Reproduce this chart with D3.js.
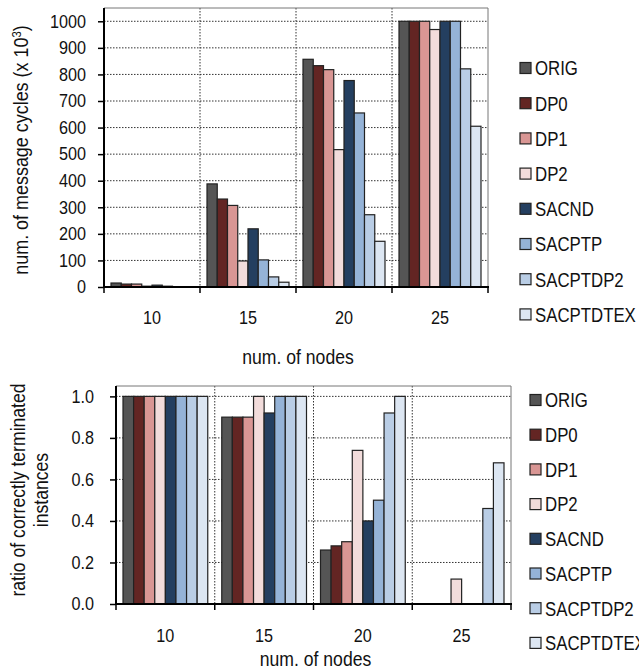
<!DOCTYPE html>
<html><head><meta charset="utf-8">
<script src="https://cdn.jsdelivr.net/npm/d3@7"></script>
<style>
body{margin:0;background:#fff;}
svg text{font-family:"Liberation Sans",Arial,Helvetica,sans-serif;fill:#111;}
</style></head><body>
<svg id="c" width="639" height="671"></svg>
<script>
const categories = ["10", "15", "20", "25"];
const seriesNames = ["ORIG", "DP0", "DP1", "DP2", "SACND", "SACPTP", "SACPTDP2", "SACPTDTEX"];

// top chart: num. of message cycles (x 10^3)
const cyclesORIG      = [15, 388, 857, 1000];
const cyclesDP0       = [11, 331, 833, 1000];
const cyclesDP1       = [11, 307, 818, 1000];
const cyclesDP2       = [3, 98, 517, 969];
const cyclesSACND     = [7, 219, 777, 1000];
const cyclesSACPTP    = [3, 102, 655, 1000];
const cyclesSACPTDP2  = [1, 38, 272, 821];
const cyclesSACPTDTEX = [1, 18, 172, 605];
const cyclesTicks = [0, 100, 200, 300, 400, 500, 600, 700, 800, 900, 1000];

// bottom chart: ratio of correctly terminated instances
const ratioORIG      = [1.0, 0.90, 0.26, 0];
const ratioDP0       = [1.0, 0.90, 0.28, 0];
const ratioDP1       = [1.0, 0.90, 0.30, 0];
const ratioDP2       = [1.0, 1.00, 0.74, 0.12];
const ratioSACND     = [1.0, 0.92, 0.40, 0];
const ratioSACPTP    = [1.0, 1.00, 0.50, 0];
const ratioSACPTDP2  = [1.0, 1.00, 0.92, 0.46];
const ratioSACPTDTEX = [1.0, 1.00, 1.00, 0.68];
const ratioTicks = [0, 0.2, 0.4, 0.6, 0.8, 1.0];

const colors = ["#555555", "#632523", "#d99694", "#f2dcdb", "#243f60", "#95b3d7", "#b9cde5", "#dce6f2"];

const svg = d3.select("#c");

// horizontally condense text around its anchor point
function squeeze(sel, k) {
  sel.each(function () {
    const t = d3.select(this);
    const x = +t.attr("x") || 0, y = +t.attr("y") || 0;
    t.attr("x", 0).attr("y", 0).attr("transform", `translate(${x},${y}) scale(${k},1)`);
  });
}

function drawChart(o) {
  const g = svg.append("g");
  const x0 = d3.scaleBand().domain(categories).range([o.left, o.right]).padding(0);
  const bw = x0.bandwidth();
  const x1 = d3.scaleBand().domain(seriesNames).range([7, bw - 7]).padding(0);
  const y = d3.scaleLinear().domain([0, o.max]).range([o.bottom, o.top]);

  g.append("g").selectAll("line").data(o.ticks.filter(t => t > 0)).join("line")
    .attr("x1", o.left).attr("x2", o.right)
    .attr("y1", d => y(d)).attr("y2", d => y(d))
    .attr("stroke", "#333").attr("stroke-width", 1).attr("stroke-dasharray", "1.5,1.5");
  g.append("g").selectAll("line").data(categories.slice(1)).join("line")
    .attr("x1", d => x0(d)).attr("x2", d => x0(d))
    .attr("y1", o.top).attr("y2", o.bottom)
    .attr("stroke", "#333").attr("stroke-width", 1).attr("stroke-dasharray", "1.5,1.5");
  g.append("line").attr("x1", o.left).attr("x2", o.right).attr("y1", o.top).attr("y2", o.top)
    .attr("stroke", "#777").attr("stroke-width", 1);
  g.append("line").attr("x1", o.right).attr("x2", o.right).attr("y1", o.top).attr("y2", o.bottom)
    .attr("stroke", "#777").attr("stroke-width", 1);

  const groups = g.append("g").selectAll("g").data(categories).join("g")
    .attr("transform", d => `translate(${x0(d)},0)`);
  groups.selectAll("rect").data((c, ci) => seriesNames.map((s, si) => ({s, si, v: o.data[si][ci]})))
    .join("rect")
    .filter(d => d.v > 0)
    .attr("x", d => x1(d.s)).attr("width", x1.bandwidth())
    .attr("y", d => y(d.v)).attr("height", d => o.bottom - y(d.v))
    .attr("fill", d => colors[d.si])
    .attr("stroke", "#222").attr("stroke-width", 1.2);

  const yAxis = d3.axisLeft(y).tickValues(o.ticks).tickFormat(o.fmt).tickSize(6).tickPadding(o.tickPad);
  const ya = g.append("g").attr("transform", `translate(${o.left},0)`).call(yAxis);
  ya.select(".domain").remove();
  ya.selectAll(".tick line").attr("stroke", "#000").attr("stroke-width", 1.5);
  ya.selectAll(".tick text").attr("font-size", 18).attr("fill", "#111");
  ya.attr("font-family", null);
  squeeze(ya.selectAll(".tick text"), 0.9);

  const bounds = categories.map(c => x0(c)).concat([o.right]);
  g.append("g").selectAll("line").data(bounds).join("line")
    .attr("x1", d => d).attr("x2", d => d).attr("y1", o.bottom).attr("y2", o.bottom + 6)
    .attr("stroke", "#000").attr("stroke-width", 1.5);
  const xl = g.append("g").selectAll("text").data(categories).join("text")
    .attr("x", d => x0(d) + bw / 2).attr("y", o.xLabelY)
    .attr("text-anchor", "middle").attr("font-size", 18).text(d => d);
  squeeze(xl, 0.9);

  g.append("line").attr("x1", o.left).attr("x2", o.left).attr("y1", o.top).attr("y2", o.bottom + 1)
    .attr("stroke", "#000").attr("stroke-width", 2);
  g.append("line").attr("x1", o.left - 1).attr("x2", o.right + 1).attr("y1", o.bottom).attr("y2", o.bottom)
    .attr("stroke", "#000").attr("stroke-width", 2);

  const xt = g.append("text").attr("x", (o.left + o.right) / 2 + 2).attr("y", o.xTitleY)
    .attr("text-anchor", "middle").attr("font-size", 20).text("num. of nodes");
  squeeze(xt, 0.88);

  const lg = g.append("g").selectAll("g").data(seriesNames).join("g")
    .attr("transform", (d, i) => `translate(${o.legX},${o.legY + i * o.legStep})`);
  lg.append("rect").attr("x", 0).attr("y", -5.5).attr("width", 11).attr("height", 11)
    .attr("fill", (d, i) => colors[i]).attr("stroke", "#222").attr("stroke-width", 1.2);
  const lt = lg.append("text").attr("x", 15).attr("y", 0).attr("dy", "0.36em")
    .attr("font-size", 20.5).text(d => d);
  squeeze(lt, 0.82);
  return g;
}

drawChart({
  left: 104, right: 488, top: 8, bottom: 287, max: 1050,
  ticks: cyclesTicks, fmt: d3.format("d"), tickPad: 12,
  data: [cyclesORIG, cyclesDP0, cyclesDP1, cyclesDP2, cyclesSACND, cyclesSACPTP, cyclesSACPTDP2, cyclesSACPTDTEX],
  xLabelY: 324, xTitleY: 364,
  legX: 520, legY: 68, legStep: 35.2
});

drawChart({
  left: 116, right: 511, top: 386, bottom: 604, max: 1.05,
  ticks: ratioTicks, fmt: d3.format(".1f"), tickPad: 16,
  data: [ratioORIG, ratioDP0, ratioDP1, ratioDP2, ratioSACND, ratioSACPTP, ratioSACPTDP2, ratioSACPTDTEX],
  xLabelY: 642, xTitleY: 666,
  legX: 530, legY: 400, legStep: 34.7
});

const t1 = svg.append("text").attr("transform", "translate(28,150) rotate(-90) scale(0.875,1)")
  .attr("text-anchor", "middle").attr("font-size", 20.5);
t1.append("tspan").text("num. of message cycles  (x 10");
t1.append("tspan").attr("dy", -7).attr("font-size", 13).text("3");
t1.append("tspan").attr("dy", 7).text(")");

svg.append("text").attr("transform", "translate(25,490) rotate(-90) scale(0.88,1)")
  .attr("text-anchor", "middle").attr("font-size", 20).text("ratio of correctly terminated");
svg.append("text").attr("transform", "translate(48,490) rotate(-90) scale(0.88,1)")
  .attr("text-anchor", "middle").attr("font-size", 20).text("instances");
</script>
</body></html>
